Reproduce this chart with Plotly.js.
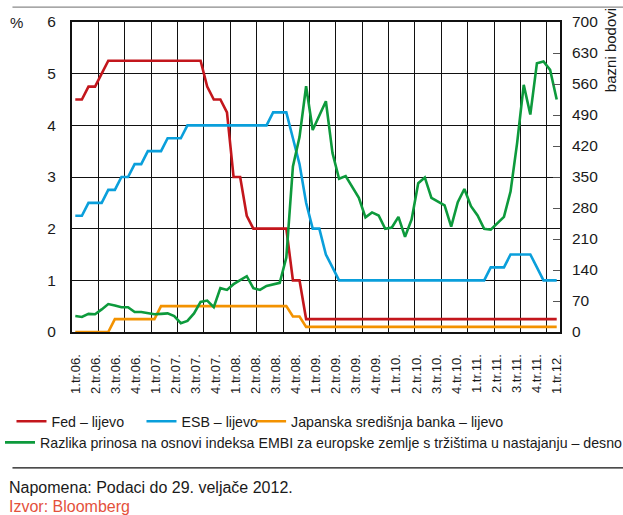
<!DOCTYPE html>
<html>
<head>
<meta charset="utf-8">
<script src="https://cdn.plot.ly/plotly-3.0.1.min.js"></script>
<style>
  html, body { margin: 0; padding: 0; background: #fff; }
  #chart { width: 623px; height: 515px; }
</style>
</head>
<body>
<div id="chart"></div>
<script>
// month index: 0 = sij 2006 ... 73 = velj 2012
const months = [
    0, 1, 2, 3, 4, 5, 6, 7, 8, 9, 10, 11, 12, 13, 14, 15, 16, 17, 18, 19,
    20, 21, 22, 23, 24, 25, 26, 27, 28, 29, 30, 31, 32, 33, 34, 35, 36, 37, 38, 39,
    40, 41, 42, 43, 44, 45, 46, 47, 48, 49, 50, 51, 52, 53, 54, 55, 56, 57, 58, 59,
    60, 61, 62, 63, 64, 65, 66, 67, 68, 69, 70, 71, 72, 73
];

const fed = [
    4.5, 4.5, 4.75, 4.75, 5.0, 5.25, 5.25, 5.25, 5.25, 5.25, 5.25, 5.25,
    5.25, 5.25, 5.25, 5.25, 5.25, 5.25, 5.25, 5.25, 4.75, 4.5, 4.5, 4.25,
    3.0, 3.0, 2.25, 2.0, 2.0, 2.0, 2.0, 2.0, 2.0, 1.0, 1.0, 0.25,
    0.25, 0.25, 0.25, 0.25, 0.25, 0.25, 0.25, 0.25, 0.25, 0.25, 0.25, 0.25,
    0.25, 0.25, 0.25, 0.25, 0.25, 0.25, 0.25, 0.25, 0.25, 0.25, 0.25, 0.25,
    0.25, 0.25, 0.25, 0.25, 0.25, 0.25, 0.25, 0.25, 0.25, 0.25, 0.25, 0.25,
    0.25, 0.25
];

const esb = [
    2.25, 2.25, 2.5, 2.5, 2.5, 2.75, 2.75, 3.0, 3.0, 3.25, 3.25, 3.5,
    3.5, 3.5, 3.75, 3.75, 3.75, 4.0, 4.0, 4.0, 4.0, 4.0, 4.0, 4.0,
    4.0, 4.0, 4.0, 4.0, 4.0, 4.0, 4.25, 4.25, 4.25, 3.75, 3.25, 2.5,
    2.0, 2.0, 1.5, 1.25, 1.0, 1.0, 1.0, 1.0, 1.0, 1.0, 1.0, 1.0,
    1.0, 1.0, 1.0, 1.0, 1.0, 1.0, 1.0, 1.0, 1.0, 1.0, 1.0, 1.0,
    1.0, 1.0, 1.0, 1.25, 1.25, 1.25, 1.5, 1.5, 1.5, 1.5, 1.25, 1.0,
    1.0, 1.0
];

const boj = [
    0, 0, 0, 0, 0, 0, 0.25, 0.25, 0.25, 0.25, 0.25, 0.25,
    0.25, 0.5, 0.5, 0.5, 0.5, 0.5, 0.5, 0.5, 0.5, 0.5, 0.5, 0.5,
    0.5, 0.5, 0.5, 0.5, 0.5, 0.5, 0.5, 0.5, 0.5, 0.3, 0.3, 0.1,
    0.1, 0.1, 0.1, 0.1, 0.1, 0.1, 0.1, 0.1, 0.1, 0.1, 0.1, 0.1,
    0.1, 0.1, 0.1, 0.1, 0.1, 0.1, 0.1, 0.1, 0.1, 0.1, 0.1, 0.1,
    0.1, 0.1, 0.1, 0.1, 0.1, 0.1, 0.1, 0.1, 0.1, 0.1, 0.1, 0.1,
    0.1, 0.1
];

// EMBI Europa, bazni bodovi (desna os)
const embi = [
    36, 34, 41, 40, 51, 63, 60, 56, 56, 45, 45, 42,
    40, 41, 42, 36, 20, 25, 42, 68, 71, 56, 99, 95,
    108, 117, 126, 99, 95, 104, 107, 111, 168, 374, 440, 555,
    456, 489, 521, 404, 346, 352, 329, 303, 259, 270, 263, 233,
    236, 260, 215, 254, 336, 349, 303, 295, 286, 238, 293, 323,
    284, 263, 233, 231, 246, 260, 317, 427, 558, 491, 607, 611,
    592, 525
];

const quarterLabels = [
    '1.tr.06.', '2.tr.06.', '3.tr.06.', '4.tr.06.',
    '1.tr.07.', '2.tr.07.', '3.tr.07.', '4.tr.07.',
    '1.tr.08.', '2.tr.08.', '3.tr.08.', '4.tr.08.',
    '1.tr.09.', '2.tr.09.', '3.tr.09.', '4.tr.09.',
    '1.tr.10.', '2.tr.10.', '3.tr.10.', '4.tr.10.',
    '1.tr.11.', '2.tr.11.', '3.tr.11.', '4.tr.11.',
    '1.tr.12.'
];

const FONT = '"Liberation Sans", Arial, sans-serif';
const INK = '#1a1a1a';
const XRANGE = [-0.5, months.length - 0.5];

// labels spread evenly from first to last month (as in the original)
const labelPos = quarterLabels.map((_, i) => i * (months.length - 1) / (quarterLabels.length - 1));
// vertical grid every 4 months, starting at the left edge
const gridPos = [];
for (let g = XRANGE[0]; g <= XRANGE[1]; g += 4) gridPos.push(g);

function lineTrace(y, name, color, legend, xaxis, yaxis) {
    return {
        x: months,
        y,
        name,
        type: 'scatter',
        mode: 'lines',
        line: { color, width: 2.6 },
        legend,
        xaxis,
        yaxis,
        hoverinfo: 'skip'
    };
}

const data = [
    lineTrace(fed, 'Fed – lijevo', '#c3161c', 'legend', 'x', 'y'),
    lineTrace(esb, 'ESB – lijevo', '#0a9fdb', 'legend', 'x', 'y'),
    lineTrace(boj, 'Japanska središnja banka – lijevo', '#f39200', 'legend3', 'x', 'y'),
    lineTrace(embi, 'Razlika prinosa na osnovi indeksa EMBI za europske zemlje s tržištima u nastajanju – desno', '#0d9a3c', 'legend2', 'x2', 'y2')
];

const legendBase = {
    orientation: 'h',
    xanchor: 'left',
    yanchor: 'middle',
    x: -0.124,
    font: { family: FONT, size: 14.2, color: INK },
    bgcolor: 'rgba(0,0,0,0)',
    itemclick: false,
    traceorder: 'normal'
};

const gridStyle = { showgrid: true, gridcolor: '#111', gridwidth: 1 };

const layout = {
    width: 623,
    height: 515,
    margin: { l: 67, r: 63, t: 22, b: 183 },
    paper_bgcolor: '#fff',
    plot_bgcolor: '#fff',
    font: { family: FONT, size: 15, color: INK },
    showlegend: true,
    xaxis: {
        range: XRANGE,
        tickmode: 'array',
        tickvals: labelPos,
        ticktext: quarterLabels,
        tickangle: -90,
        ticks: '',
        ticklabelstandoff: 15,
        showgrid: false,
        zeroline: false,
        showline: true,
        mirror: true,
        linecolor: '#111',
        linewidth: 2,
        tickfont: { family: FONT, size: 13, color: INK },
        fixedrange: true
    },
    xaxis2: Object.assign({
        range: XRANGE,
        overlaying: 'x',
        anchor: 'y2',
        tickmode: 'array',
        tickvals: gridPos,
        showticklabels: false,
        ticks: '',
        zeroline: false,
        fixedrange: true
    }, gridStyle),
    yaxis: Object.assign({
        range: [0, 6],
        dtick: 1,
        zeroline: false,
        showline: true,
        mirror: true,
        linecolor: '#111',
        linewidth: 2,
        ticks: '',
        ticklabelstandoff: 11,
        tickfont: { family: FONT, size: 15.5, color: INK },
        fixedrange: true
    }, gridStyle),
    yaxis2: {
        range: [0, 700],
        dtick: 70,
        overlaying: 'y',
        side: 'right',
        anchor: 'x2',
        showgrid: false,
        zeroline: false,
        ticks: 'inside',
        ticklen: 7,
        tickwidth: 1,
        tickcolor: '#555',
        ticklabelstandoff: 11,
        tickfont: { family: FONT, size: 15.5, color: INK },
        fixedrange: true
    },
    legend: Object.assign({}, legendBase, { y: -0.289, entrywidth: 85 }),
    legend3: Object.assign({}, legendBase, { y: -0.289, x: 0.367 }),
    legend2: Object.assign({}, legendBase, { y: -0.357 }),
    shapes: [
        { type: 'line', xref: 'paper', yref: 'paper', x0: -0.122, x1: 1.13, y0: 1.048, y1: 1.048,
          line: { color: '#8a8a8a', width: 1.2 } },
        { type: 'line', xref: 'paper', yref: 'paper', x0: -0.122, x1: 1.13, y0: -0.438, y1: -0.438,
          line: { color: '#111', width: 1.2 } }
    ],
    annotations: [
        { text: '%', xref: 'paper', yref: 'paper', x: -0.132, y: 1.0, xanchor: 'left', yanchor: 'middle',
          showarrow: false, font: { family: FONT, size: 15, color: INK } },
        { text: 'bazni bodovi', xref: 'paper', yref: 'paper', x: 1.105, y: 0.91, textangle: -90,
          xanchor: 'center', yanchor: 'middle', showarrow: false,
          font: { family: FONT, size: 15, color: INK } },
        { text: 'Napomena: Podaci do 29. veljače 2012.', xref: 'paper', yref: 'paper', x: -0.133, y: -0.5,
          xanchor: 'left', yanchor: 'middle', showarrow: false,
          font: { family: FONT, size: 16, color: INK } },
        { text: 'Izvor: Bloomberg', xref: 'paper', yref: 'paper', x: -0.133, y: -0.5645,
          xanchor: 'left', yanchor: 'middle', showarrow: false,
          font: { family: FONT, size: 16, color: '#e4513c' } }
    ]
};

Plotly.newPlot('chart', data, layout, {
    displayModeBar: false,
    staticPlot: true
});
</script>
</body>
</html>
